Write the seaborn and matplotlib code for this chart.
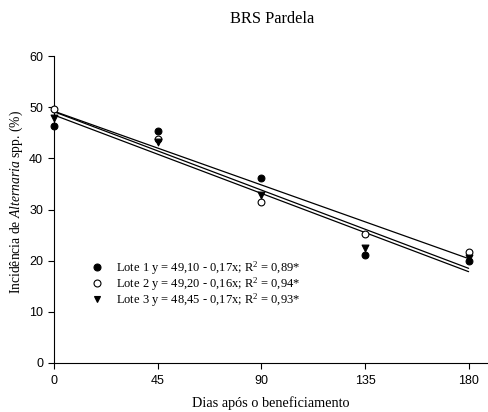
import matplotlib
matplotlib.use("Agg")
import matplotlib.pyplot as plt
import seaborn as sns
import numpy as np
import pandas as pd

dias = [0, 45, 90, 135, 180]
lote1 = [46.3, 45.3, 36.1, 21.1, 20.0]
lote2 = [49.6, 43.8, 31.4, 25.2, 21.7]
lote3 = [47.8, 43.2, 32.8, 22.5, 20.5]
intercepts = [49.10, 49.20, 48.45]
slopes = [-0.17, -0.16, -0.17]
labels = ["Lote 1 y = 49,10 - 0,17x; R$^2$ = 0,89*",
          "Lote 2 y = 49,20 - 0,16x; R$^2$ = 0,94*",
          "Lote 3 y = 48,45 - 0,17x; R$^2$ = 0,93*"]
title = "BRS Pardela"
xticks = [0, 45, 90, 135, 180]
yticks = [0, 10, 20, 30, 40, 50, 60]

sns.set_style("ticks")
plt.rcParams["mathtext.fontset"] = "custom"
plt.rcParams["mathtext.rm"] = "Liberation Serif"
plt.rcParams["mathtext.it"] = "Liberation Serif:italic"
plt.rcParams["text.color"] = "black"
plt.rcParams["axes.labelcolor"] = "black"
plt.rcParams["legend.labelcolor"] = "black"

df = pd.DataFrame({
    "dias": dias * 3,
    "inc": lote1 + lote2 + lote3,
    "lote": ["Lote 1"] * 5 + ["Lote 2"] * 5 + ["Lote 3"] * 5,
})

fig = plt.figure(figsize=(4.88, 4.12), dpi=100)
ax = fig.add_axes([0.111, 0.119, 0.887, 0.745])

# regression lines
xs = np.array([0, 180])
for b0, b1 in zip(intercepts, slopes):
    sns.lineplot(x=xs, y=b0 + b1 * xs, ax=ax, color="black", lw=0.9)

markers = {"Lote 1": "o", "Lote 2": "o", "Lote 3": "v"}
faces = {"Lote 1": "black", "Lote 2": "white", "Lote 3": "black"}
handles = []
for lote, lab in zip(["Lote 1", "Lote 2", "Lote 3"], labels):
    sub = df[df["lote"] == lote]
    sns.scatterplot(data=sub, x="dias", y="inc", ax=ax, marker=markers[lote],
                    color=faces[lote], edgecolor="black", linewidth=0.8, s=24, zorder=5,
                    clip_on=False)
    handles.append(plt.Line2D([], [], marker=markers[lote], ls="none",
                              markerfacecolor=faces[lote], markeredgecolor="black",
                              markersize=5, markeredgewidth=0.8))

ax.set_xlim(0, 188)
ax.set_ylim(0, 60)
ax.set_xticks(xticks)
ax.set_yticks(yticks)
ax.tick_params(direction="out", length=4, width=0.8, labelsize=9, colors="black")
ax.tick_params(axis="x", pad=5)
ax.tick_params(axis="y", pad=4)
for lab in ax.get_xticklabels() + ax.get_yticklabels():
    lab.set_fontfamily("Liberation Sans")
sns.despine(ax=ax)
for s in ["left", "bottom"]:
    ax.spines[s].set_linewidth(0.8)
    ax.spines[s].set_color("black")

ax.set_xlabel("Dias após o beneficiamento", family="Liberation Serif", fontsize=10.3,
              labelpad=6, color="black")
ax.set_ylabel("Incidência de $\\mathit{Alternaria}$ spp. (%)", family="Liberation Serif",
              fontsize=9.8, va="center", color="black")
ax.yaxis.set_label_coords(-0.088, 0.526)
fig.text(0.558, 0.955, title, family="Liberation Serif", fontsize=11.8, ha="center",
         va="center", color="black")

leg = ax.legend(handles, labels, loc="upper left", bbox_to_anchor=(0.065, 0.355),
                frameon=False, prop={"family": "Liberation Serif", "size": 9},
                handletextpad=0.7, labelspacing=-0.12, borderaxespad=0, handlelength=1.6)
for t in leg.get_texts():
    t.set_color("black")

fig.savefig("out.png", dpi=100)
